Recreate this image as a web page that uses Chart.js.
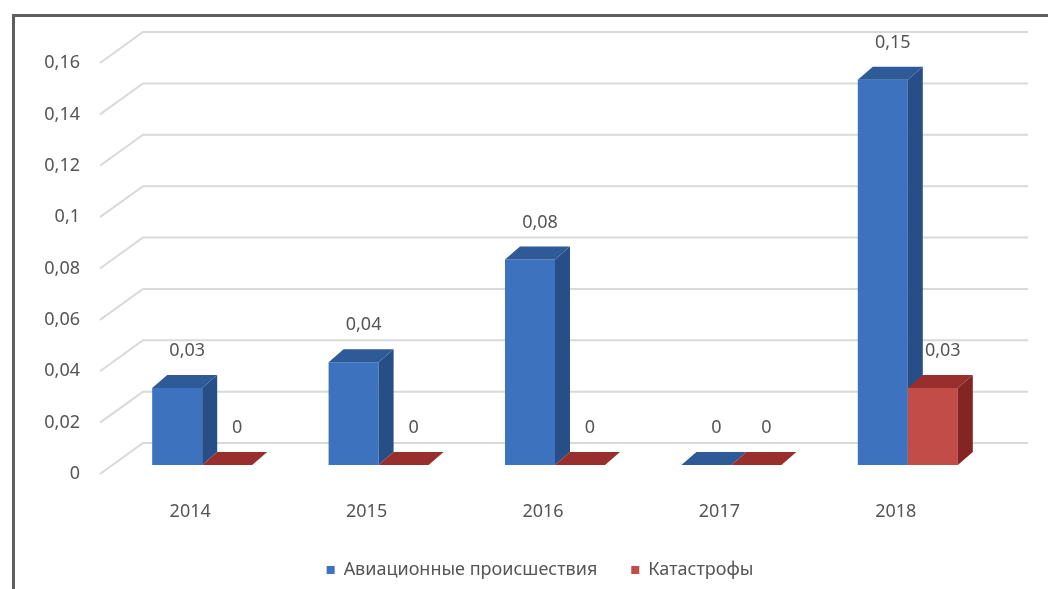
<!DOCTYPE html>
<html lang="ru">
<head>
<meta charset="utf-8">
<title>Авиационные происшествия и катастрофы</title>
<script src="https://cdn.jsdelivr.net/npm/chart.js@4/dist/chart.umd.min.js"></script>
<style>
  html, body { margin: 0; padding: 0; background: #fff; }
  #wrap { position: relative; width: 1048px; height: 589px; overflow: hidden; }
  #frame {
    position: absolute; left: 12px; top: 14px; right: -10px; bottom: -10px;
    border-top: 3px solid #5e5e5e; border-left: 3px solid #5e5e5e;
  }
  #chart { position: absolute; left: 0; top: 0; }
</style>
</head>
<body>
<div id="wrap">
  <div id="frame"></div>
  <canvas id="chart" width="1048" height="589"></canvas>
</div>
<script>
// --- data ---
const years = ['2014', '2015', '2016', '2017', '2018'];
const incidents = [0.03, 0.04, 0.08, 0, 0.15];   // Авиационные происшествия
const disasters = [0, 0, 0, 0, 0.03];            // Катастрофы
const yMin = 0;
const yMax = 0.16;
const yStep = 0.02;

const textColor = '#555555';
const font = {family: '"Noto Sans", "DejaVu Sans", sans-serif', size: 18};

// front / side / top colours for each series
const faces = [
  {front: '#3d72bf', side: '#284e88', top: '#2f5a98'},
  {front: '#c24c48', side: '#842523', top: '#982f2c'}
];
const depthX = 15, depthY = 13;

const fmt = v => String(Math.round(v * 100) / 100).replace('.', ',');

// fake 3D: back wall grid + extruded bars, drawn from the bar elements
const bars3d = {
  id: 'bars3d',
  afterLayout(chart) {
    // legend sits a bit right of the plot centre
    chart.legend.left += 42;
    chart.legend.right += 42;
  },
  beforeDatasetsDraw(chart) {
    const ctx = chart.ctx;
    const y = chart.scales.y;

    // wall gridlines with the little diagonals running back from the labels
    ctx.save();
    ctx.strokeStyle = '#d9d9d9';
    ctx.lineWidth = 2;
    y.ticks.forEach(t => {
      const p = y.getPixelForValue(t.value);
      ctx.beginPath();
      ctx.moveTo(100, p + 9);
      ctx.lineTo(143, p - 22);
      ctx.lineTo(1028, p - 22);
      ctx.stroke();
    });
    ctx.restore();

    // bars, left to right so the nearer faces overlap properly
    years.forEach((_, i) => {
      chart.data.datasets.forEach((ds, d) => {
        const el = chart.getDatasetMeta(d).data[i];
        const c = faces[d];
        const l = el.x - el.width / 2, r = el.x + el.width / 2;
        const top = el.y, base = el.base;
        ctx.save();
        ctx.fillStyle = c.front;
        ctx.fillRect(l, top, r - l, base - top);
        ctx.fillStyle = c.side;
        ctx.beginPath();
        ctx.moveTo(r, top);
        ctx.lineTo(r + depthX, top - depthY);
        ctx.lineTo(r + depthX, base - depthY);
        ctx.lineTo(r, base);
        ctx.closePath();
        ctx.fill();
        ctx.fillStyle = c.top;
        ctx.beginPath();
        ctx.moveTo(l, top);
        ctx.lineTo(l + depthX, top - depthY);
        ctx.lineTo(r + depthX, top - depthY);
        ctx.lineTo(r, top);
        ctx.closePath();
        ctx.fill();
        ctx.restore();
      });
    });

    // value labels
    ctx.save();
    ctx.fillStyle = textColor;
    ctx.font = font.size + 'px ' + font.family;
    ctx.textAlign = 'center';
    ctx.textBaseline = 'middle';
    chart.data.datasets.forEach((ds, d) => {
      chart.getDatasetMeta(d).data.forEach((el, i) => {
        ctx.fillText(fmt(ds.data[i]), el.x + 10, el.y - 37);
      });
    });
    ctx.restore();
    return false;
  }
};

new Chart(document.getElementById('chart'), {
  type: 'bar',
  data: {
    labels: years,
    datasets: [
      {label: 'Авиационные происшествия', data: incidents, backgroundColor: faces[0].front, borderWidth: 0},
      {label: 'Катастрофы', data: disasters, backgroundColor: faces[1].front, borderWidth: 0}
    ]
  },
  options: {
    responsive: false,
    animation: false,
    layout: {padding: {left: 0, right: 52, top: 54, bottom: 0}},
    datasets: {bar: {categoryPercentage: 0.567, barPercentage: 1}},
    scales: {
      x: {
        grid: {display: false, drawTicks: false},
        border: {display: false},
        ticks: {color: textColor, font: font, padding: 36, labelOffset: -12},
        afterFit: s => { s.height = 62; }
      },
      y: {
        min: yMin, max: yMax,
        grid: {display: false, drawTicks: false},
        border: {display: false},
        ticks: {
          stepSize: yStep, color: textColor, font: font, padding: 34, labelOffset: 9,
          callback: v => fmt(v)
        },
        afterFit: s => { s.width = 114; }
      }
    },
    plugins: {
      legend: {
        position: 'bottom',
        maxHeight: 64,
        labels: {color: textColor, font: font, boxWidth: 8, boxHeight: 8, padding: 34}
      },
      tooltip: {enabled: false}
    }
  },
  plugins: [bars3d]
});
</script>
</body>
</html>
